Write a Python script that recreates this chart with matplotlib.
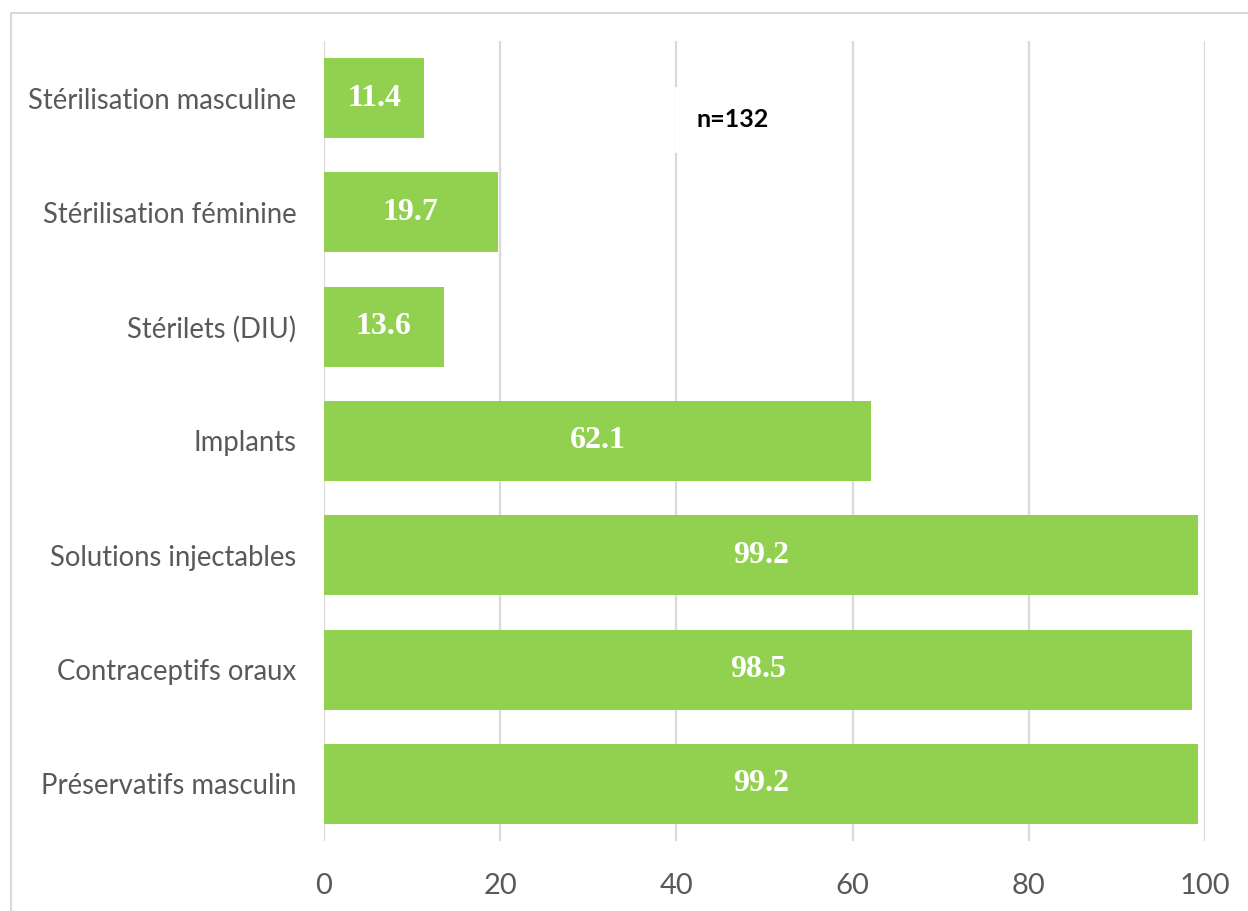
import matplotlib.pyplot as plt
from matplotlib.patches import Rectangle

# méthodes connues (%), de bas en haut
methodes = ["Préservatifs masculin", "Contraceptifs oraux", "Solutions injectables",
            "Implants", "Stérilets (DIU)", "Stérilisation féminine",
            "Stérilisation masculine"]
pourcentages = [99.2, 98.5, 99.2, 62.1, 13.6, 19.7, 11.4]
graduations = [0, 20, 40, 60, 80, 100]

vert = "#92D050"
gris = "#D9D9D9"
texte = "#595959"

fig = plt.figure(figsize=(12.48, 9.11), dpi=100)
ax = fig.add_axes([324 / 1248, 1 - 841 / 911, (1205 - 324) / 1248, 800 / 911])

pos = list(range(len(methodes)))
barres = ax.barh(pos, pourcentages, height=0.7, color=vert, zorder=2)

for b, v in zip(barres, pourcentages):
    ax.text(v / 2, b.get_y() + b.get_height() / 2, f"{v:.1f}",
            ha="center", va="center", color="white", fontsize=23,
            fontweight="bold", family="Liberation Serif", zorder=3)

ax.set_xlim(0, 100)
ax.set_ylim(-0.5, len(methodes) - 0.5)
ax.set_xticks(graduations)
ax.set_yticks(pos)
ax.set_yticklabels(methodes, family="Lato", fontsize=19.8, color=texte)
for lab in ax.get_xticklabels():
    lab.set_family("Lato")
ax.tick_params(axis="x", length=0, pad=23, labelsize=21, labelcolor=texte)
ax.tick_params(axis="y", length=0, pad=20)

ax.grid(axis="x", color=gris, linewidth=1.6, zorder=0)
ax.set_axisbelow(True)
for s in ax.spines.values():
    s.set_visible(False)

ax.text(46.4, 5.81, "n=132", ha="center", va="center", fontsize=18,
        fontweight="bold", family="Lato", color="black", zorder=4,
        bbox=dict(boxstyle="square,pad=0.85", facecolor="white", edgecolor="none"))

# cadre du graphique
fig.patches.append(Rectangle((11 / 1248, -0.1), 1.2, 1.1 - 13 / 911,
                             transform=fig.transFigure, fill=False,
                             edgecolor=gris, linewidth=1.5))

fig.savefig("out.png", dpi=100, facecolor="white")
